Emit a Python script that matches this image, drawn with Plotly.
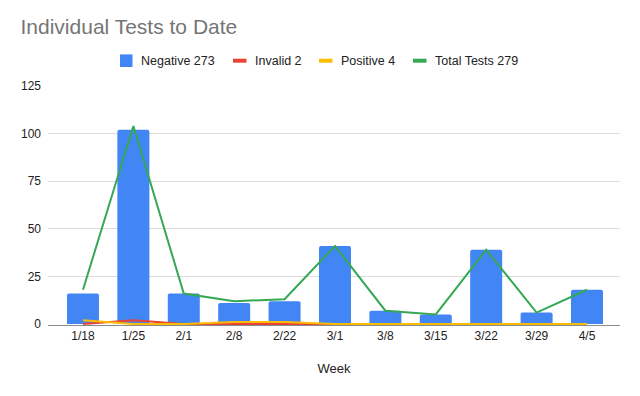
import plotly.graph_objects as go

weeks = ["1/18", "1/25", "2/1", "2/8", "2/22", "3/1", "3/8", "3/15", "3/22", "3/29", "4/5"]
negative = [16, 102, 16, 11, 12, 41, 7, 5, 39, 6, 18]
invalid = [0, 2, 0, 0, 0, 0, 0, 0, 0, 0, 0]
positive = [2, 0, 0, 1, 1, 0, 0, 0, 0, 0, 0]
total = [18, 104, 16, 12, 13, 41, 7, 5, 39, 6, 18]
series_names = ["Negative 273", "Invalid 2", "Positive 4", "Total Tests 279"]
y_ticks = [0, 25, 50, 75, 100, 125]

FONT = "Liberation Sans, Arial, sans-serif"
BLUE, RED, YELLOW, GREEN = "#4285F4", "#EA4335", "#FBBC04", "#34A853"

W, H = 640, 396
L, R, T, B = 48, 20, 86, 71
PX0, PX1, PY0, PY1 = L, W - R, T, H - B


def px2x(px):
    return (px - PX0) / (PX1 - PX0)


def py2y(py):
    return (PY1 - py) / (PY1 - PY0)


fig = go.Figure()
fig.add_trace(go.Bar(x=weeks, y=negative, name=series_names[0], marker_color=BLUE,
                     marker_line_width=0, showlegend=False))
fig.add_trace(go.Scatter(x=weeks, y=invalid, name=series_names[1], mode="lines",
                         line=dict(color=RED, width=2), showlegend=False))
fig.add_trace(go.Scatter(x=weeks, y=positive, name=series_names[2], mode="lines",
                         line=dict(color=YELLOW, width=2), showlegend=False))
fig.add_trace(go.Scatter(x=weeks, y=total, name=series_names[3], mode="lines",
                         line=dict(color=GREEN, width=2), showlegend=False))

# custom legend (swatches + labels) placed like the reference
legend_y = 60.7
items = [
    (series_names[0], BLUE, "square", 120, 141),
    (series_names[1], RED, "line", 233, 254.5),
    (series_names[2], YELLOW, "line", 319, 341),
    (series_names[3], GREEN, "line", 413, 434.5),
]
shapes = []
annotations = []
for name, color, kind, sx, tx in items:
    if kind == "square":
        shapes.append(dict(type="rect", xref="paper", yref="paper",
                           x0=px2x(sx), x1=px2x(sx + 12.5),
                           y0=py2y(legend_y + 6.3), y1=py2y(legend_y - 6.3),
                           fillcolor=color, line=dict(width=0)))
    else:
        shapes.append(dict(type="rect", xref="paper", yref="paper",
                           x0=px2x(sx), x1=px2x(sx + 13.5),
                           y0=py2y(legend_y + 2), y1=py2y(legend_y - 2),
                           fillcolor=color, line=dict(width=0)))
    annotations.append(dict(text=name, xref="paper", yref="paper", x=px2x(tx - 1),
                            y=py2y(legend_y), xanchor="left", yanchor="middle",
                            showarrow=False, borderpad=0,
                            font=dict(family=FONT, size=12.5, color="#222222")))

fig.update_layout(
    width=W, height=H,
    margin=dict(l=L, r=R, t=T, b=B, pad=0),
    paper_bgcolor="white", plot_bgcolor="white",
    font=dict(family=FONT, size=12, color="#222222"),
    title=dict(text="Individual Tests to Date", x=20.5 / W, xanchor="left",
               xref="container", yref="container", y=1 - 27 / H, yanchor="middle",
               font=dict(family=FONT, size=21, color="#757575")),
    showlegend=False,
    bargap=0.365,
    barcornerradius=2,
    shapes=shapes,
    annotations=annotations,
)
fig.update_xaxes(range=[-0.694, 10.655], showgrid=False, showline=True,
                 linecolor="#8a8a8a", linewidth=1, layer="below traces", ticks="",
                 title=dict(text="Week", font=dict(family=FONT, size=13, color="#222222"),
                            standoff=21),
                 tickfont=dict(family=FONT, size=12, color="#222222"))
fig.update_yaxes(range=[-(H - B - T) / (238 / 125) + 125, 125], tickvals=y_ticks,
                 showgrid=True, gridcolor="#dcdcdc", gridwidth=1, zeroline=False,
                 showline=False, layer="below traces",
                 tickfont=dict(family=FONT, size=12, color="#222222"), ticklabelstandoff=6)

fig.write_html("out.html", config={"displayModeBar": False},
               post_script="document.body.style.margin='0';")
